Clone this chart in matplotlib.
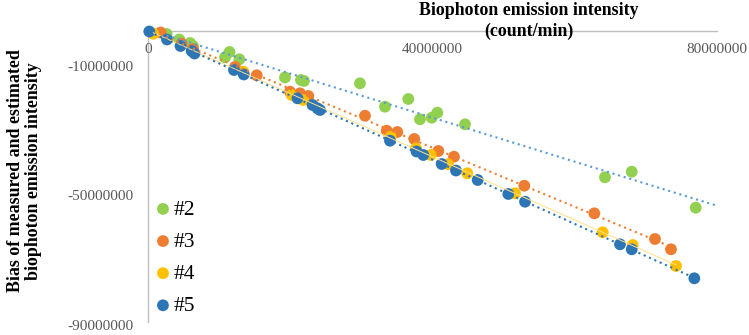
import numpy as np
import matplotlib
matplotlib.use("Agg")
import matplotlib.pyplot as plt
from matplotlib.ticker import FuncFormatter
from matplotlib.transforms import ScaledTranslation

plt.rcParams['font.family'] = ['Liberation Serif', 'DejaVu Serif']

# ---- data (x in counts/min, y bias) ----
series_names = ["#2", "#3", "#4", "#5"]

x2 = [2.63, 4.40, 5.91, 6.33, 10.83, 11.46, 12.84, 19.26, 21.51, 21.93, 29.80,
      33.32, 36.60, 38.24, 39.89, 40.68, 44.57, 64.25, 68.01, 77.01]
y2 = [-0.93, -2.63, -3.71, -4.64, -8.13, -6.50, -8.75, -14.38, -15.15, -15.46, -16.18,
      -23.41, -21.03, -27.31, -26.81, -25.27, -28.86, -45.25, -43.52, -54.65]

x3 = [1.79, 4.74, 6.33, 12.23, 15.28, 19.96, 21.37, 22.54, 30.51, 33.56, 35.05,
      37.44, 40.82, 43.02, 52.91, 62.75, 71.28, 73.53]
y3 = [-0.46, -3.93, -5.57, -11.13, -13.70, -18.77, -19.27, -20.10, -26.20, -30.84, -31.24,
      -33.40, -37.11, -38.88, -47.85, -56.39, -64.33, -67.52]

x4 = [0.75, 13.40, 20.20, 21.83, 34.12, 37.68, 39.75, 42.18, 44.89, 51.60, 63.93, 68.15, 74.24]
y4 = [-0.84, -12.59, -19.79, -21.34, -32.69, -36.28, -38.35, -41.20, -44.01, -50.20,
      -62.26, -66.19, -72.68]

x5 = [0.18, 2.67, 4.57, 6.14, 6.54, 12.09, 13.47, 21.02, 23.13, 23.83, 24.18, 34.02,
      37.75, 38.71, 41.29, 43.30, 46.35, 50.66, 53.01, 66.36, 68.01, 76.81]
y5 = [-0.15, -2.63, -4.64, -6.19, -6.96, -12.06, -13.45, -20.82, -22.89, -23.91, -24.43,
      -33.93, -37.27, -38.35, -41.14, -43.15, -46.08, -50.41, -52.80, -65.97, -67.52, -76.49]

SCALE = 1e6
x_ticks = [0, 40000000, 80000000]
y_ticks = [-90000000, -50000000, -10000000]
x_max = 80000000
y_min = -90000000
green_forecast_end = 80000000

colors = ["#92D050", "#ED7D31", "#FFC000", "#2E75B6"]
trend_colors = ["#5B9BD5", "#ED7D31", "#FFE08A", "#2E75B6"]

W, H = 749, 335
fig = plt.figure(figsize=(W / 100, H / 100), dpi=100)
ax = fig.add_axes([148 / W, 1 - 322 / H, (717 - 148) / W, (322 - 31) / H])

xs = [x2, x3, x4, x5]
ys = [y2, y3, y4, y5]

handles = []
for i, (xx, yy) in enumerate(zip(xs, ys)):
    xa = np.array(xx) * SCALE
    ya = np.array(yy) * SCALE
    h = ax.scatter(xa, ya, s=72, color=colors[i], edgecolors='none', zorder=2 + i,
                   clip_on=False, label=series_names[i])
    handles.append(h)

for i, (xx, yy) in enumerate(zip(xs, ys)):
    xa = np.array(xx) * SCALE
    ya = np.array(yy) * SCALE
    k, b = np.polyfit(xa, ya, 1)
    xend = green_forecast_end if i == 0 else xa.max()
    xl = np.array([xa.min(), xend])
    if i == 2:
        ax.plot(xl, k * xl + b, color=trend_colors[i], lw=0.7, zorder=10, clip_on=False)
    else:
        ax.plot(xl, k * xl + b, color=trend_colors[i], lw=1.5,
                linestyle=(0, (1, 1.8)), zorder=10, clip_on=False)

ax.set_xlim(0, x_max)
ax.set_ylim(y_min, 0)
ax.set_xticks(x_ticks)
ax.set_yticks(y_ticks)
fmt = FuncFormatter(lambda v, p: f"{v:.0f}")
ax.xaxis.set_major_formatter(fmt)
ax.yaxis.set_major_formatter(fmt)

ax.spines['top'].set_visible(False)
ax.spines['right'].set_visible(False)
ax.spines['bottom'].set_position(('data', 0))
for s in ['left', 'bottom']:
    ax.spines[s].set_color('#BFBFBF')
    ax.spines[s].set_linewidth(1.0)
    ax.spines[s].set_zorder(1)

ax.tick_params(axis='both', length=0, labelsize=11, labelcolor='#595959')
ax.tick_params(axis='x', pad=8.6)
ax.tick_params(axis='y', pad=10.8)
for lab in ax.get_yticklabels():
    lab.set_transform(lab.get_transform() + ScaledTranslation(0, -2.5 / 100, fig.dpi_scale_trans))

# axis titles
fig.text(528.5 / W, 1 - 15 / H, "Biophoton emission intensity", ha='center', va='baseline',
         fontsize=12.9, fontweight='bold', color='black')
fig.text(528.5 / W, 1 - 36 / H, "(count/min)", ha='center', va='baseline',
         fontsize=12.9, fontweight='bold', color='black')
fig.text(20 / W, 1 - 171 / H, "Bias of measured and estimated", ha='center', va='baseline',
         rotation=90, rotation_mode='anchor', fontsize=12.9, fontweight='bold')
fig.text(38 / W, 1 - 171.5 / H, "biophoton emission intensity", ha='center', va='baseline',
         rotation=90, rotation_mode='anchor', fontsize=12.9, fontweight='bold')

leg = fig.legend(handles=handles, labels=series_names, loc='upper left',
                 bbox_to_anchor=(156.5 / W, 1 - 199.5 / H), frameon=False,
                 fontsize=15.5, handlelength=0.6, handletextpad=0.2, borderpad=0,
                 borderaxespad=0, labelspacing=0.56, scatterpoints=1)

fig.savefig("out.png", dpi=100)
